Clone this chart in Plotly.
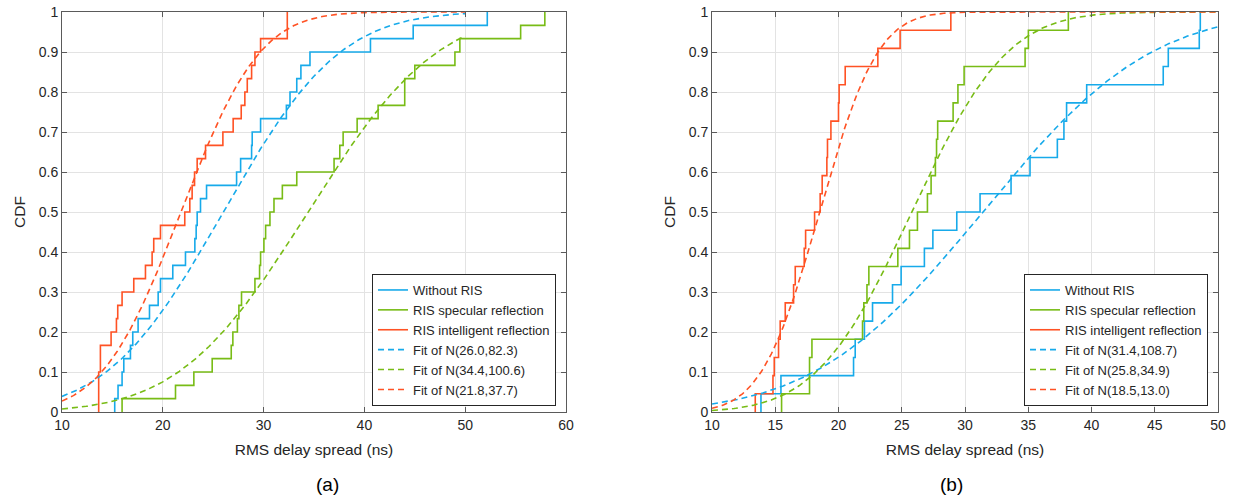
import math
import numpy as np
import plotly.graph_objects as go

# ---------------- data ----------------
series_names = ["Without RIS", "RIS specular reflection", "RIS intelligent reflection"]

# (a) empirical samples, RMS delay spread (ns)
a_without = [15.23, 15.56, 15.96, 16.13, 16.79, 17.02, 17.55, 18.68, 19.54, 19.77,
             20.99, 22.25, 23.18, 23.31, 23.41, 23.74, 24.34, 27.32, 27.72, 28.81,
             28.87, 29.70, 32.26, 32.62, 33.29, 33.70, 34.60, 40.60, 44.84, 52.19]
a_specular = [15.96, 21.26, 23.08, 24.90, 26.79, 26.95, 27.40, 27.55, 27.81, 29.14,
              29.60, 29.70, 30.03, 30.20, 30.63, 31.03, 31.86, 33.29, 36.99, 37.56,
              37.89, 39.28, 41.36, 44.00, 44.00, 45.00, 48.98, 49.47, 55.50, 57.90]
a_intelligent = [13.64, 13.64, 13.64, 13.81, 13.81, 14.87, 15.40, 15.53, 15.96, 17.12,
                 18.28, 18.94, 19.10, 19.77, 22.18, 22.68, 22.91, 23.15, 23.41, 24.24,
                 25.96, 26.98, 27.78, 28.14, 28.38, 28.81, 29.14, 29.70, 32.35, 32.35]
a_fit_mu = [26.0, 34.4, 21.8]
a_fit_var = [82.3, 100.6, 37.7]

# (b) empirical samples
b_without = [13.87, 15.45, 21.19, 21.32, 22.05, 22.69, 24.27, 24.95, 26.79, 27.46,
             29.35, 31.19, 33.64, 35.14, 37.30, 37.82, 38.03, 39.62, 45.67, 46.07,
             48.52, 48.60]
b_specular = [15.50, 17.71, 17.71, 17.90, 21.90, 22.00, 22.25, 22.40, 24.69, 25.61,
              26.24, 27.03, 27.32, 27.66, 27.75, 27.84, 29.06, 29.44, 29.93, 34.75,
              35.01, 38.17]
b_intelligent = [13.42, 14.82, 14.92, 15.26, 15.39, 15.79, 16.45, 16.58, 17.29, 17.40,
                 18.11, 18.55, 18.71, 19.08, 19.13, 19.40, 20.00, 20.05, 20.53, 23.11,
                 24.87, 28.88]
b_fit_mu = [31.4, 25.8, 18.5]
b_fit_var = [108.7, 34.9, 13.0]

fit_range = [10, 50]
a_xticks = [10, 20, 30, 40, 50, 60]
b_xticks = [10, 15, 20, 25, 30, 35, 40, 45, 50]
y_ticks = [0, 0.1, 0.2, 0.3, 0.4, 0.5, 0.6, 0.7, 0.8, 0.9, 1]
y_ticklabels = ["0", "0.1", "0.2", "0.3", "0.4", "0.5", "0.6", "0.7", "0.8", "0.9", "1"]

colors = ["#17AAEA", "#78BC16", "#FF5224"]
FONT = "Liberation Sans, Arial, Helvetica, sans-serif"


def ecdf(vals):
    s = sorted(vals)
    n = len(s)
    x = [s[0]] + s
    y = [0.0] + [(k + 1) / n for k in range(n)]
    return x, y


def normcdf(x, mu, var):
    sd = math.sqrt(var)
    return [0.5 * (1 + math.erf((xi - mu) / (sd * math.sqrt(2)))) for xi in x]


fig = go.Figure()

panels = [
    (a_without, a_specular, a_intelligent, a_fit_mu, a_fit_var, "x", "y", "legend"),
    (b_without, b_specular, b_intelligent, b_fit_mu, b_fit_var, "x2", "y2", "legend2"),
]
xf = list(np.linspace(fit_range[0], fit_range[1], 300))
for wo, sp, il, mus, vs, xa, ya, lg in panels:
    for name, vals, c in zip(series_names, [wo, sp, il], colors):
        ex, ey = ecdf(vals)
        fig.add_trace(go.Scatter(x=ex, y=ey, mode="lines", line=dict(color=c, width=1.6, shape="hv"),
                                 name=name, xaxis=xa, yaxis=ya, legend=lg))
    for mu, v, c in zip(mus, vs, colors):
        fig.add_trace(go.Scatter(x=xf, y=normcdf(xf, mu, v), mode="lines",
                                 line=dict(color=c, width=1.6, dash="6px,4px"),
                                 name=f"Fit of N({mu:.1f},{v:.1f})", xaxis=xa, yaxis=ya, legend=lg))

W, H = 1234, 502
ydom = [(502 - 412) / H, (502 - 12) / H]
axis_common = dict(showgrid=True, gridcolor="#E3E3E3", gridwidth=1, zeroline=False,
                   showline=True, linecolor="#5A5A5A", linewidth=1, mirror="ticks",
                   ticks="inside", ticklen=5, tickcolor="#5A5A5A", automargin=False,
                   tickfont=dict(family=FONT, size=14, color="#262626"))
xtitle = dict(text="RMS delay spread (ns)", font=dict(size=15.5), standoff=12)
ytitle = dict(text="CDF", font=dict(size=15.5), standoff=9)
legend_common = dict(y=(502 - 406) / H, xanchor="right", yanchor="bottom",
                     bgcolor="white", bordercolor="#262626", borderwidth=1,
                     font=dict(family=FONT, size=13, color="#262626"), tracegroupgap=0)

fig.update_layout(
    width=W, height=H, margin=dict(l=0, r=0, t=0, b=0, autoexpand=False),
    paper_bgcolor="white", plot_bgcolor="white",
    font=dict(family=FONT, color="#262626"),
    xaxis=dict(domain=[62 / W, 566 / W], range=[10, 60], tickvals=a_xticks, anchor="y",
               title=xtitle, **axis_common),
    yaxis=dict(domain=ydom, range=[0, 1], tickvals=y_ticks, ticktext=y_ticklabels, anchor="x",
               title=ytitle, **axis_common),
    xaxis2=dict(domain=[712 / W, 1218 / W], range=[10, 50], tickvals=b_xticks, anchor="y2",
                title=xtitle, **axis_common),
    yaxis2=dict(domain=ydom, range=[0, 1], tickvals=y_ticks, ticktext=y_ticklabels, anchor="x2",
                title=ytitle, **axis_common),
    legend=dict(x=556 / W, **legend_common),
    legend2=dict(x=1208 / W, **legend_common),
    annotations=[
        dict(text="(a)", x=314 / W, y=(502 - 497) / H, xref="paper", yref="paper",
             showarrow=False, font=dict(family=FONT, size=19, color="#000")),
        dict(text="(b)", x=965 / W, y=(502 - 497) / H, xref="paper", yref="paper",
             showarrow=False, font=dict(family=FONT, size=19, color="#000")),
    ],
)

fig.write_html("out.html", config={"displayModeBar": False},
               post_script="document.body.style.margin='0px';document.body.style.overflow='hidden';")
